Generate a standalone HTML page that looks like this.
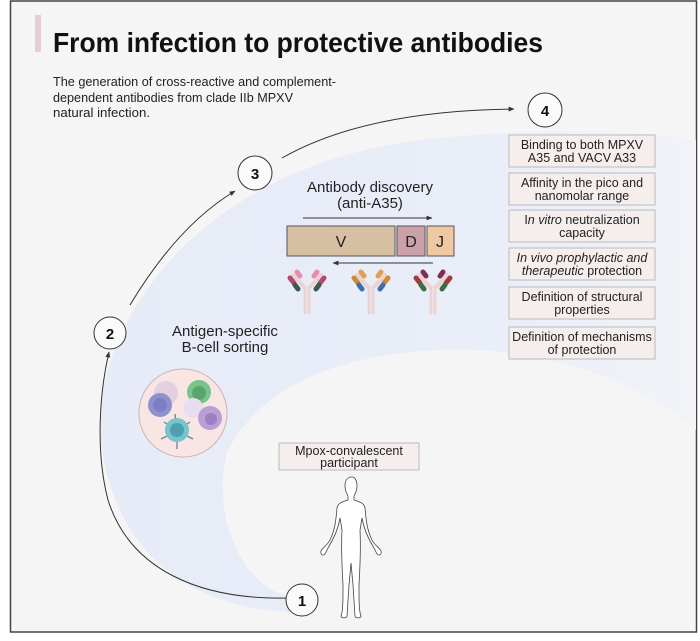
<!DOCTYPE html>
<html><head><meta charset="utf-8"><style>
html,body{margin:0;padding:0;background:#fff;}
svg{display:block;font-family:"Liberation Sans",Arial,sans-serif;}
</style></head><body>
<svg width="700" height="641" viewBox="0 0 700 641" xmlns="http://www.w3.org/2000/svg">
<defs>
<linearGradient id="bl" x1="0" y1="0" x2="1" y2="0">
<stop offset="0" stop-color="#e6ebf7"/><stop offset="0.7" stop-color="#eaeef8"/><stop offset="1" stop-color="#f1f3f7"/>
</linearGradient>
<marker id="ah" viewBox="0 0 10 10" refX="9" refY="5" markerWidth="6" markerHeight="6" orient="auto"><path d="M0,1 L10,5 L0,9 z" fill="#333"/></marker>
</defs>
<rect x="0" y="0" width="700" height="641" fill="#fff"/>
<rect x="10.5" y="1" width="686" height="631" fill="#f5f5f5" stroke="#444" stroke-width="1.5"/>
<!-- blue crescent -->
<path d="M300,612 C200,612 110,560 100,430 C95,330 190,170 420,140 C520,128 640,130 696,140 L696,430 C640,380 540,345 440,350 C330,355 260,390 228,450 C210,510 240,595 300,598 Z" fill="url(#bl)"/>
<!-- title -->
<rect x="35" y="15" width="6" height="37" fill="#e6cfd2"/>
<text x="53" y="52" font-size="28" font-weight="bold" fill="#111" textLength="490" lengthAdjust="spacingAndGlyphs">From infection to protective antibodies</text>
<g font-size="12.5" fill="#222">
<text x="53" y="86" textLength="283" lengthAdjust="spacingAndGlyphs">The generation of cross-reactive and complement-</text>
<text x="53" y="102" textLength="240" lengthAdjust="spacingAndGlyphs">dependent antibodies from clade IIb MPXV</text>
<text x="53" y="117" textLength="97" lengthAdjust="spacingAndGlyphs">natural infection.</text>
</g>
<!-- arrows -->
<g fill="none" stroke="#333" stroke-width="1">
<path d="M288,598 C200,600 130,570 108,500 C95,450 100,390 109,352" marker-end="url(#ah)"/>
<path d="M130,305 C160,255 195,215 235,191" marker-end="url(#ah)"/>
<path d="M282,158 C340,125 420,110 514,109" marker-end="url(#ah)"/>
</g>
<!-- circles -->
<g fill="#fafafa" stroke="#333" stroke-width="1">
<circle cx="302" cy="600" r="16"/><circle cx="110" cy="333" r="16"/><circle cx="255" cy="173" r="17"/><circle cx="545" cy="110" r="17"/>
</g>
<g font-size="15" font-weight="bold" text-anchor="middle" fill="#111">
<text x="302" y="606">1</text><text x="110" y="339">2</text><text x="255" y="179">3</text><text x="545" y="116">4</text>
</g>
<!-- antibody discovery -->
<g font-size="15" text-anchor="middle" fill="#222">
<text x="370" y="192">Antibody discovery</text><text x="370" y="208">(anti-A35)</text>
<text x="225" y="336">Antigen-specific</text><text x="225" y="352">B-cell sorting</text>
</g>
<line x1="303" y1="218" x2="432" y2="218" stroke="#333" stroke-width="1" marker-end="url(#ah)"/>
<line x1="433" y1="263" x2="333" y2="263" stroke="#333" stroke-width="1" marker-end="url(#ah)"/>
<rect x="287" y="226" width="108" height="30" fill="#d6bfa3" stroke="#555"/>
<rect x="397" y="226" width="28" height="30" fill="#caa1a8" stroke="#555"/>
<rect x="427" y="226" width="27" height="30" fill="#efc7a0" stroke="#555"/>
<g font-size="16" text-anchor="middle" fill="#222"><text x="341" y="247">V</text><text x="411" y="247">D</text><text x="440" y="247">J</text></g>
<!-- antibodies -->
<g stroke-linecap="round">
<g transform="translate(307,275)">
<line x1="-2" y1="12" x2="-2" y2="38" stroke="#ecd3d3" stroke-width="3"/><line x1="2" y1="12" x2="2" y2="38" stroke="#ecd3d3" stroke-width="3"/>
<line x1="-14" y1="0" x2="-3" y2="12" stroke="#ecd3d3" stroke-width="4"/><line x1="14" y1="0" x2="3" y2="12" stroke="#ecd3d3" stroke-width="4"/>
<line x1="-17" y1="3" x2="-13" y2="8" stroke="#b5486f" stroke-width="5"/><line x1="-12" y1="10" x2="-9" y2="14" stroke="#3b5a4e" stroke-width="5"/>
<line x1="-10" y1="-3" x2="-7" y2="1" stroke="#e88db0" stroke-width="5"/><line x1="10" y1="-3" x2="7" y2="1" stroke="#e88db0" stroke-width="5"/>
<line x1="17" y1="3" x2="13" y2="8" stroke="#b5486f" stroke-width="5"/><line x1="12" y1="10" x2="9" y2="14" stroke="#3b5a4e" stroke-width="5"/>
</g>
<g transform="translate(371,275)">
<line x1="-2" y1="12" x2="-2" y2="38" stroke="#ecd3d3" stroke-width="3"/><line x1="2" y1="12" x2="2" y2="38" stroke="#ecd3d3" stroke-width="3"/>
<line x1="-14" y1="0" x2="-3" y2="12" stroke="#ecd3d3" stroke-width="4"/><line x1="14" y1="0" x2="3" y2="12" stroke="#ecd3d3" stroke-width="4"/>
<line x1="-17" y1="3" x2="-13" y2="8" stroke="#c98a3b" stroke-width="5"/><line x1="-12" y1="10" x2="-9" y2="14" stroke="#3d6fb0" stroke-width="5"/>
<line x1="-10" y1="-3" x2="-7" y2="1" stroke="#e0a050" stroke-width="5"/><line x1="10" y1="-3" x2="7" y2="1" stroke="#e0a050" stroke-width="5"/>
<line x1="17" y1="3" x2="13" y2="8" stroke="#c98a3b" stroke-width="5"/><line x1="12" y1="10" x2="9" y2="14" stroke="#3d6fb0" stroke-width="5"/>
</g>
<g transform="translate(433,275)">
<line x1="-2" y1="12" x2="-2" y2="38" stroke="#ecd3d3" stroke-width="3"/><line x1="2" y1="12" x2="2" y2="38" stroke="#ecd3d3" stroke-width="3"/>
<line x1="-14" y1="0" x2="-3" y2="12" stroke="#ecd3d3" stroke-width="4"/><line x1="14" y1="0" x2="3" y2="12" stroke="#ecd3d3" stroke-width="4"/>
<line x1="-17" y1="3" x2="-13" y2="8" stroke="#a33a3a" stroke-width="5"/><line x1="-12" y1="10" x2="-9" y2="14" stroke="#3c6b45" stroke-width="5"/>
<line x1="-10" y1="-3" x2="-7" y2="1" stroke="#7a3050" stroke-width="5"/><line x1="10" y1="-3" x2="7" y2="1" stroke="#7a3050" stroke-width="5"/>
<line x1="17" y1="3" x2="13" y2="8" stroke="#a33a3a" stroke-width="5"/><line x1="12" y1="10" x2="9" y2="14" stroke="#3c6b45" stroke-width="5"/>
</g>
</g>
<!-- cell circle -->
<circle cx="183" cy="413" r="44" fill="#f9e6e4" stroke="#c9b5b5" stroke-width="1"/>
<circle cx="166" cy="393" r="12" fill="#e2cfe0"/>
<circle cx="160" cy="405" r="12" fill="#8d92cf"/><circle cx="160" cy="405" r="7" fill="#7c7fc4"/>
<circle cx="199" cy="392" r="12" fill="#79c48c"/><circle cx="199" cy="393" r="7" fill="#59a56e"/>
<circle cx="193" cy="408" r="10" fill="#e7dff0"/>
<circle cx="210" cy="418" r="12" fill="#b89fd6"/><circle cx="211" cy="419" r="6" fill="#9d7fc4"/>
<g stroke="#5a8a9a" stroke-width="1.3">
<line x1="177" y1="431" x2="161" y2="439"/><line x1="177" y1="431" x2="193" y2="439"/><line x1="177" y1="431" x2="175" y2="414"/><line x1="177" y1="431" x2="164" y2="422"/><line x1="177" y1="431" x2="190" y2="422"/><line x1="177" y1="431" x2="177" y2="449"/>
</g>
<circle cx="177" cy="430" r="12" fill="#79c3cc"/><circle cx="177" cy="430" r="7" fill="#4f9fae"/>
<!-- right boxes -->
<g fill="#f6eded" stroke="#bbb" stroke-width="1">
<rect x="509" y="135" width="146" height="32"/><rect x="509" y="173" width="146" height="32"/><rect x="509" y="210" width="146" height="32"/>
<rect x="509" y="248" width="146" height="32"/><rect x="509" y="287" width="146" height="32"/><rect x="509" y="327" width="146" height="32"/>
<rect x="279" y="443" width="140" height="27"/>
</g>
<g font-size="12.5" text-anchor="middle" fill="#222">
<text x="582" y="149">Binding to both MPXV</text><text x="582" y="162">A35 and VACV A33</text>
<text x="582" y="187">Affinity in the pico and</text><text x="582" y="200">nanomolar range</text>
<text x="582" y="224">I<tspan font-style="italic">n vitro</tspan> neutralization</text><text x="582" y="237">capacity</text>
<text x="582" y="262" font-style="italic">In vivo prophylactic and</text><text x="582" y="275"><tspan font-style="italic">therapeutic</tspan> protection</text>
<text x="582" y="301">Definition of structural</text><text x="582" y="314">properties</text>
<text x="582" y="341">Definition of mechanisms</text><text x="582" y="354">of protection</text>
<text x="349" y="455">Mpox-convalescent</text><text x="349" y="467">participant</text>
</g>
<!-- person -->
<path d="M352,477 C347,477 345,481 345,486 C345,491 347,494 348,496 L348,500 C342,502 338,503 337,508 C336,520 335,530 330,540 C327,546 322,548 321,551 C320,555 324,557 326,552 L328,548 C333,540 338,530 340,518 L342,530 C341,550 342,568 343,585 C343,600 343,612 341,616 C341,618 346,619 347,616 L349,585 L351,563 L353,585 L355,616 C356,619 361,618 361,616 C359,612 359,600 359,585 C360,568 361,550 360,530 L362,518 C364,530 369,540 374,548 L376,552 C378,557 382,555 381,551 C380,548 375,546 372,540 C367,530 366,520 365,508 C364,503 360,502 354,500 L354,496 C355,494 357,491 357,486 C357,481 355,477 352,477 Z" fill="#fff" stroke="#444" stroke-width="0.8"/>
</svg>
</body></html>
